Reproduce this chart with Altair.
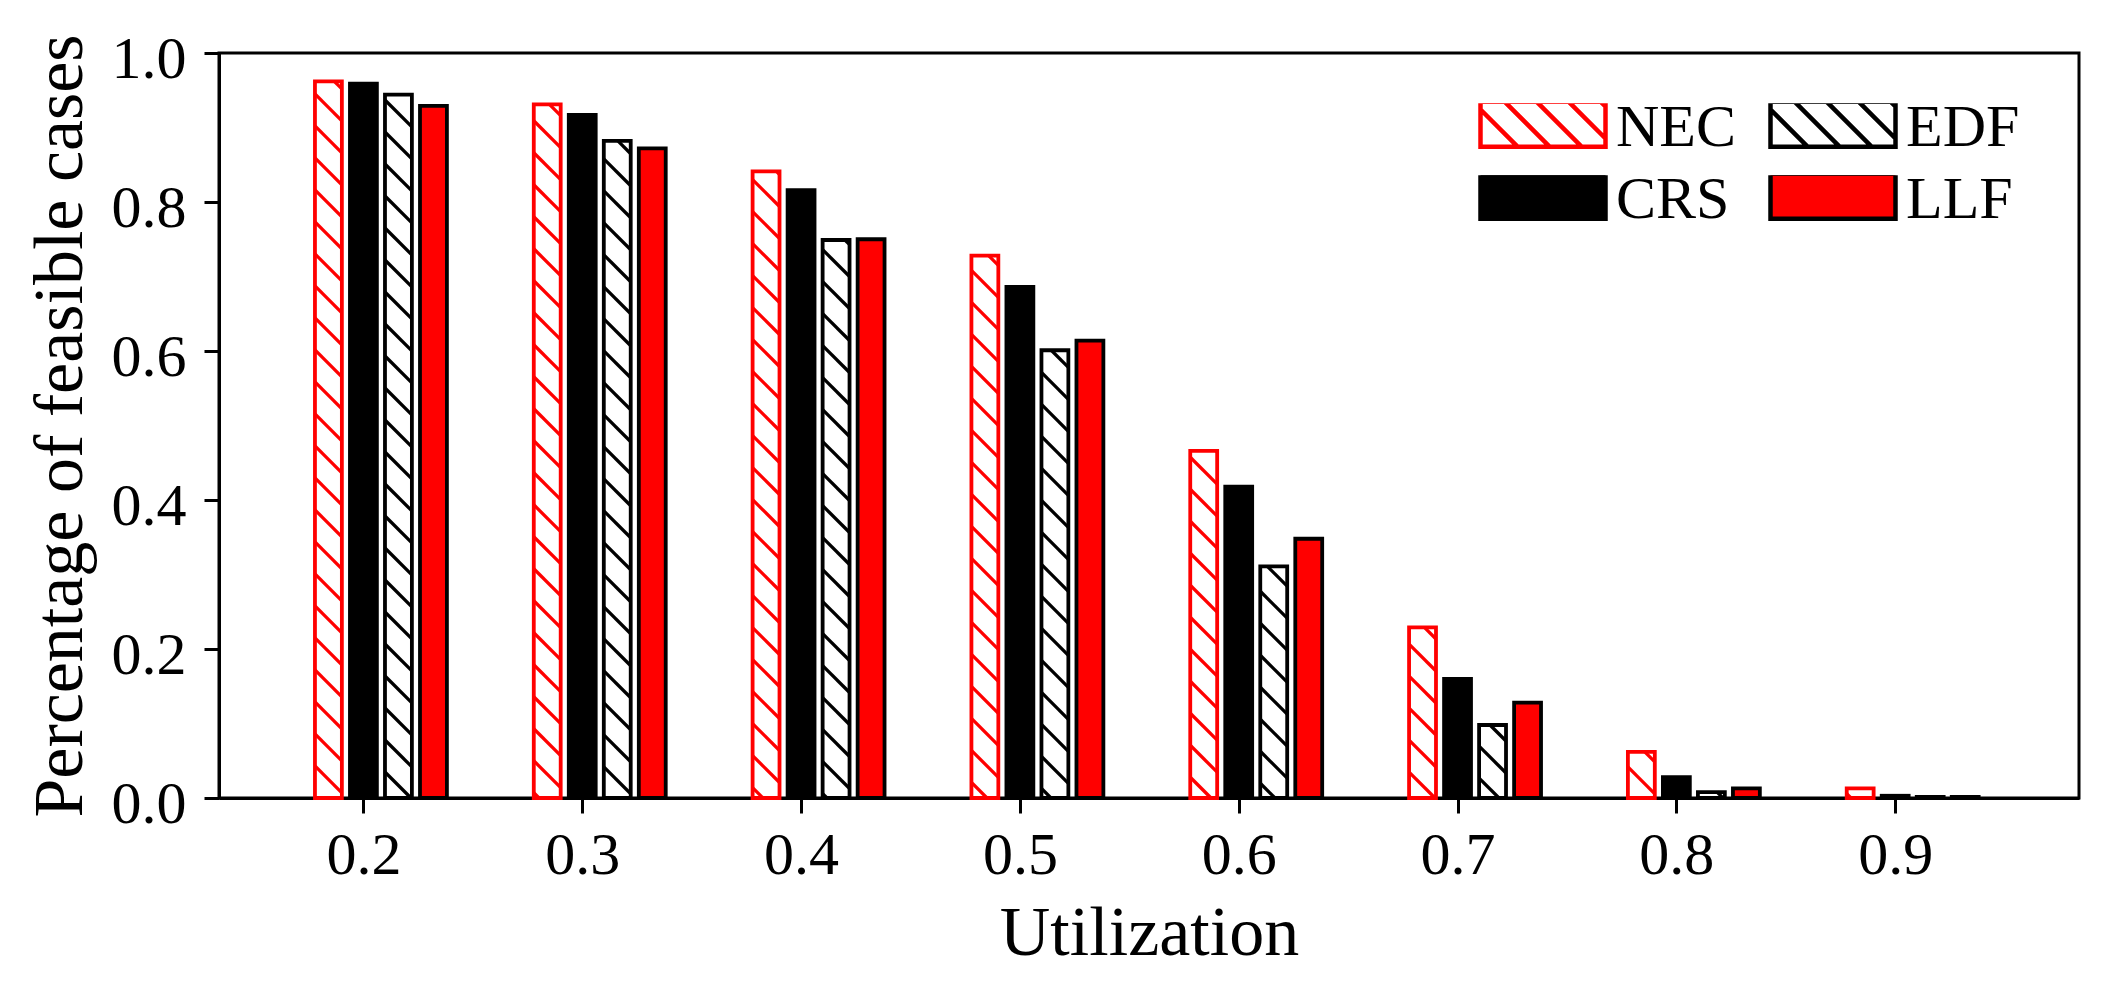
import math
import altair as alt
import pandas as pd

# ---------------- data ----------------
utilization = [0.2, 0.3, 0.4, 0.5, 0.6, 0.7, 0.8, 0.9]
nec = [0.962, 0.931, 0.841, 0.728, 0.466, 0.229, 0.062, 0.013]
crs = [0.959, 0.917, 0.816, 0.686, 0.418, 0.160, 0.028, 0.003]
edf = [0.944, 0.882, 0.749, 0.601, 0.311, 0.098, 0.008, 0.0015]
llf = [0.929, 0.872, 0.750, 0.614, 0.348, 0.128, 0.013, 0.0015]
series_names = ["NEC", "CRS", "EDF", "LLF"]
# legend is laid out column by column: NEC, CRS in column 1; EDF, LLF in column 2
legend_order = ["NEC", "CRS", "EDF", "LLF"]
x_ticks = [0.2, 0.3, 0.4, 0.5, 0.6, 0.7, 0.8, 0.9]
y_ticks = [0.0, 0.2, 0.4, 0.6, 0.8, 1.0]

# ---------------- layout / style constants ----------------
W, H = 1860, 745
XDOM = [0.134, 0.984]
YDOM = [0.0, 1.0]
BAR_STEP = 0.016      # distance between neighbouring bars in a group
BAR_W = 0.0123        # bar width (data units)
BAR_INDEX = {"NEC": -1, "CRS": 0, "EDF": 1, "LLF": 2}
HATCH_SP = 32.0       # hatch spacing in px
FONT = "Liberation Serif"
RED = "#ff0000"
EDGE_W = 3.8
HATCH_W = 3.3
LEG_W = 4.5

styles = {
    "NEC": dict(fill="white", stroke=RED, hatch=RED),
    "CRS": dict(fill="black", stroke="black", hatch=None),
    "EDF": dict(fill="white", stroke="black", hatch="black"),
    "LLF": dict(fill=RED, stroke="black", hatch=None),
}

values = {"NEC": nec, "CRS": crs, "EDF": edf, "LLF": llf}

rows = []
for s in series_names:
    for u, v in zip(utilization, values[s]):
        xc = u + BAR_INDEX[s] * BAR_STEP
        rows.append(dict(series=s, util=u, value=v, x1=xc - BAR_W / 2, x2=xc + BAR_W / 2))
bars = pd.DataFrame(rows)

# hatch segments ("\\" lines at 45 degrees in pixel space), clipped to each bar
kx = W / (XDOM[1] - XDOM[0])
ky = H / (YDOM[1] - YDOM[0])
hrows = []
for r in rows:
    if styles[r["series"]]["hatch"] is None:
        continue
    xl = (r["x1"] - XDOM[0]) * kx
    xr = (r["x2"] - XDOM[0]) * kx
    h = r["value"] * ky
    k0 = int(math.floor(xl / HATCH_SP))
    k1 = int(math.ceil((xr + h) / HATCH_SP))
    for k in range(k0, k1 + 1):
        C = k * HATCH_SP
        X1 = max(xl, C - h)
        X2 = min(xr, C)
        if X2 - X1 <= 0.5:
            continue
        Y1 = C - X1
        Y2 = C - X2
        hrows.append(dict(series=r["series"],
                          hx1=X1 / kx + XDOM[0], hx2=X2 / kx + XDOM[0],
                          hy1=Y1 / ky, hy2=Y2 / ky))
hatch = pd.DataFrame(hrows)

# ---------------- encodings ----------------
x_axis = alt.Axis(values=x_ticks, format=".1f", title="Utilization", grid=False,
                  tickSize=15, labelPadding=13, labelFlush=False, labelOverlap=False,
                  titleY=156, titleX=W / 2, titleBaseline="alphabetic")
y_axis = alt.Axis(values=y_ticks, format=".1f", title="Percentage of feasible cases",
                  grid=False, tickSize=15, labelPadding=18, labelBaseline="alphabetic",
                  labelOffset=24, labelOverlap=False, labelFlush=False,
                  titleAngle=270, titleX=-138, titleY=H / 2,
                  titleBaseline="alphabetic", titleAlign="center")
x_scale = alt.Scale(domain=XDOM, nice=False, zero=False)
y_scale = alt.Scale(domain=YDOM, nice=False)

layers = []
for s in series_names:
    st = styles[s]
    layers.append(
        alt.Chart(bars).transform_filter(alt.datum.series == s)
        .mark_bar(fill=st["fill"], stroke=st["stroke"], strokeWidth=EDGE_W, opacity=1)
        .encode(
            x=alt.X("x1:Q", scale=x_scale, axis=x_axis),
            x2="x2:Q",
            y=alt.Y("value:Q", scale=y_scale, axis=y_axis),
            y2=alt.Y2Datum(0),
        )
    )
for s in series_names:
    st = styles[s]
    if st["hatch"] is None:
        continue
    layers.append(
        alt.Chart(hatch).transform_filter(alt.datum.series == s)
        .mark_rule(color=st["hatch"], strokeWidth=HATCH_W, strokeCap="butt")
        .encode(
            x=alt.X("hx1:Q", scale=x_scale, axis=x_axis),
            x2="hx2:Q",
            y=alt.Y("hy1:Q", scale=y_scale, axis=y_axis),
            y2="hy2:Q",
        )
    )

# legend: custom rectangular symbols 125x45 px (unit = 62.5 px), hatch lines for NEC / EDF
rect = "M-1,-0.424H1V0.296H-1Z"
hatch_lines = ("M-1,-0.301L-0.403,0.296M-0.611,-0.424L0.109,0.296"
               "M-0.099,-0.424L0.621,0.296M0.413,-0.424L1,0.163M0.925,-0.424L1,-0.349")
shape_range = [rect + hatch_lines if styles[s]["hatch"] else rect for s in legend_order]
fill_range = [styles[s]["fill"] for s in legend_order]
stroke_range = [styles[s]["stroke"] for s in legend_order]

leg = alt.Legend(title=None, orient="none", legendX=1259, legendY=50.3, columns=2,
                 symbolSize=15625, symbolStrokeWidth=LEG_W, clipHeight=50, rowPadding=12,
                 columnPadding=32, labelOffset=8, labelFont=FONT, labelFontSize=60,
                 labelColor="black", symbolOpacity=1, gridAlign="each", padding=0)

legend_df = pd.DataFrame({"series": legend_order})
layers.append(
    alt.Chart(legend_df).mark_point(filled=True, clip=True, strokeWidth=LEG_W, size=100)
    .encode(
        x=alt.value(-2000), y=alt.value(-2000),
        shape=alt.Shape("series:N", scale=alt.Scale(domain=legend_order, range=shape_range), legend=leg),
        fill=alt.Fill("series:N", scale=alt.Scale(domain=legend_order, range=fill_range), legend=leg),
        stroke=alt.Stroke("series:N", scale=alt.Scale(domain=legend_order, range=stroke_range), legend=leg),
    )
)

chart = (
    alt.layer(*layers)
    .properties(width=W, height=H,
                padding={"left": 211, "top": 45, "right": 15, "bottom": 190},
                autosize=alt.AutoSizeParams(type="none"))
    .configure(font=FONT)
    .configure_view(stroke="black", strokeWidth=3)
    .configure_axis(domainColor="black", domainWidth=3, tickColor="black", tickWidth=3,
                    labelFont=FONT, labelFontSize=60, labelColor="black",
                    titleFont=FONT, titleFontSize=70, titleColor="black",
                    titleFontWeight="normal")
)

chart.save("out.html", embed_options={"renderer": "svg", "actions": False})
